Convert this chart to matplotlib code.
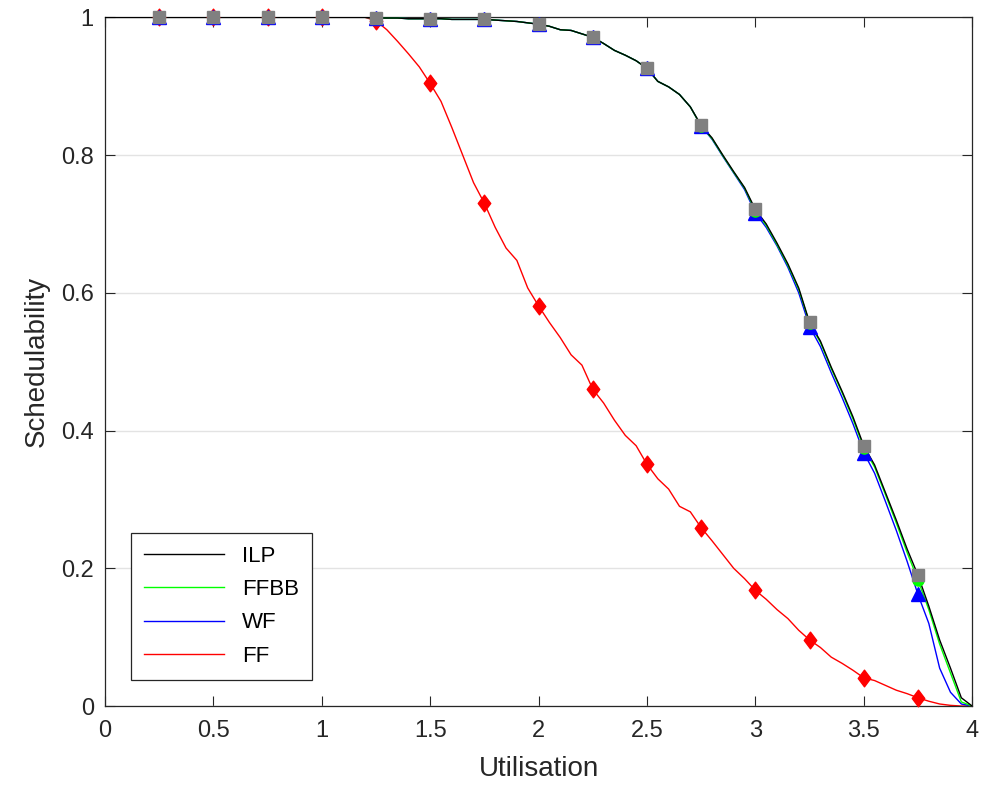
import matplotlib.pyplot as plt
import numpy as np
from matplotlib.path import Path


#Utilisation values (step 0.05)
util = np.round(np.arange(0, 4.001, 0.05), 2)

#Schedulability for each algorithm
ilp = [1.0] * 25 + [0.999, 0.999, 0.999, 0.998, 0.998, 0.998, 0.998, 0.997, 0.997, 0.997,
                    0.997, 0.996, 0.995, 0.994, 0.992, 0.990, 0.987, 0.982, 0.981, 0.976,
                    0.971, 0.962, 0.952, 0.945, 0.937, 0.926, 0.907, 0.899, 0.888, 0.870,
                    0.843, 0.825, 0.800, 0.776, 0.753, 0.721, 0.700, 0.672, 0.642, 0.607,
                    0.557, 0.530, 0.492, 0.457, 0.420, 0.378, 0.350, 0.310, 0.270, 0.228,
                    0.190, 0.145, 0.096, 0.055, 0.012, 0.0]

ffbb = [1.0] * 25 + [0.999, 0.999, 0.999, 0.998, 0.998, 0.998, 0.998, 0.997, 0.997, 0.997,
                     0.997, 0.996, 0.995, 0.994, 0.992, 0.990, 0.987, 0.982, 0.981, 0.976,
                     0.971, 0.962, 0.952, 0.945, 0.937, 0.926, 0.907, 0.899, 0.888, 0.870,
                     0.842, 0.824, 0.799, 0.775, 0.752, 0.719, 0.698, 0.670, 0.640, 0.605,
                     0.556, 0.528, 0.490, 0.455, 0.417, 0.375, 0.347, 0.307, 0.266, 0.223,
                     0.183, 0.140, 0.090, 0.048, 0.006, 0.0]

wf = [1.0] * 25 + [0.999, 0.999, 0.999, 0.998, 0.998, 0.998, 0.998, 0.997, 0.997, 0.997,
                   0.997, 0.996, 0.995, 0.994, 0.992, 0.990, 0.987, 0.982, 0.981, 0.976,
                   0.971, 0.962, 0.952, 0.945, 0.937, 0.926, 0.907, 0.899, 0.888, 0.870,
                   0.842, 0.823, 0.798, 0.774, 0.750, 0.716, 0.695, 0.668, 0.637, 0.600,
                   0.551, 0.522, 0.484, 0.448, 0.410, 0.368, 0.338, 0.297, 0.255, 0.210,
                   0.162, 0.120, 0.055, 0.020, 0.003, 0.0]

ff = [1.0] * 25 + [0.995, 0.982, 0.965, 0.947, 0.928, 0.904, 0.878, 0.840, 0.800, 0.760,
                   0.730, 0.695, 0.665, 0.647, 0.607, 0.581, 0.557, 0.535, 0.510, 0.495,
                   0.460, 0.440, 0.415, 0.393, 0.378, 0.351, 0.330, 0.315, 0.290, 0.282,
                   0.259, 0.240, 0.220, 0.200, 0.185, 0.168, 0.155, 0.140, 0.127, 0.110,
                   0.096, 0.085, 0.071, 0.062, 0.052, 0.041, 0.037, 0.030, 0.023, 0.018,
                   0.012, 0.007, 0.003, 0.001, 0.0, 0.0]

labels = ['ILP', 'FFBB', 'WF', 'FF']


plt.rcParams['font.family'] = ['Liberation Sans', 'DejaVu Sans']

fig = plt.figure(figsize=(9.81, 7.88), dpi=100)
ax = fig.add_axes([0.107, 0.104, 0.884, 0.874])

#Markers only every 0.25
marks = slice(5, 80, 5)

#MATLAB style diamond (a bit wider than matplotlib's thin diamond)
diamond = Path([(0, 1), (0.75, 0), (0, -1), (-0.75, 0), (0, 1)],
               [Path.MOVETO, Path.LINETO, Path.LINETO, Path.LINETO, Path.CLOSEPOLY])

#Lines (legend entries), ILP drawn on top
ax.plot(util, ff, color='#ff0000', lw=1.0, label=labels[3], zorder=2)
ax.plot(util, wf, color='#0000ff', lw=1.0, label=labels[2], zorder=3)
ax.plot(util, ffbb, color='#00ff00', lw=1.0, label=labels[1], zorder=4)
ax.plot(util, ilp, color='#000000', lw=1.0, label=labels[0], zorder=5)

#Markers
ax.plot(util[marks], np.array(ff)[marks], marker=diamond, ls='none', color='#ff0000',
        ms=12, zorder=6, clip_on=False)
ax.plot(util[marks], np.array(wf)[marks], '^', color='#0000ff', ms=10, zorder=7, clip_on=False)
ax.plot(util[marks], np.array(ffbb)[marks], 'o', color='#00ff00', ms=8, zorder=8, clip_on=False)
ax.plot(util[marks], np.array(ilp)[marks], 's', color='#808080', ms=9, zorder=9, clip_on=False)

ax.set_xlim(0, 4)
ax.set_ylim(0, 1)
ax.set_xticks(np.arange(0, 4.01, 0.5))
ax.set_xticklabels(['0', '0.5', '1', '1.5', '2', '2.5', '3', '3.5', '4'])
ax.set_yticks([0, 0.2, 0.4, 0.6, 0.8, 1])
ax.set_yticklabels(['0', '0.2', '0.4', '0.6', '0.8', '1'])

ax.yaxis.grid(True, color='#e3e3e3', lw=1.0)
ax.set_axisbelow(True)

ax.tick_params(direction='in', top=True, right=True, length=7, width=0.8,
               labelsize=17, colors='#262626')
ax.tick_params(axis='x', pad=10)
ax.tick_params(axis='y', pad=8)
for s in ax.spines.values():
    s.set_color('#262626')
    s.set_linewidth(0.9)

ax.set_xlabel('Utilisation', fontsize=20, color='#262626', labelpad=10)
ax.set_ylabel('Schedulability', fontsize=20, color='#262626', labelpad=8)

#Legend in MATLAB order
handles, lbls = ax.get_legend_handles_labels()
order = [3, 2, 1, 0]
leg = ax.legend([handles[i] for i in order], [lbls[i] for i in order],
                loc='lower left', bbox_to_anchor=(0.03, 0.038), borderaxespad=0,
                fontsize=16, handlelength=3.6, fancybox=False, framealpha=1,
                edgecolor='#262626', borderpad=0.6, labelspacing=0.55)
leg.get_frame().set_linewidth(0.9)

plt.savefig('out.png', dpi=100)
